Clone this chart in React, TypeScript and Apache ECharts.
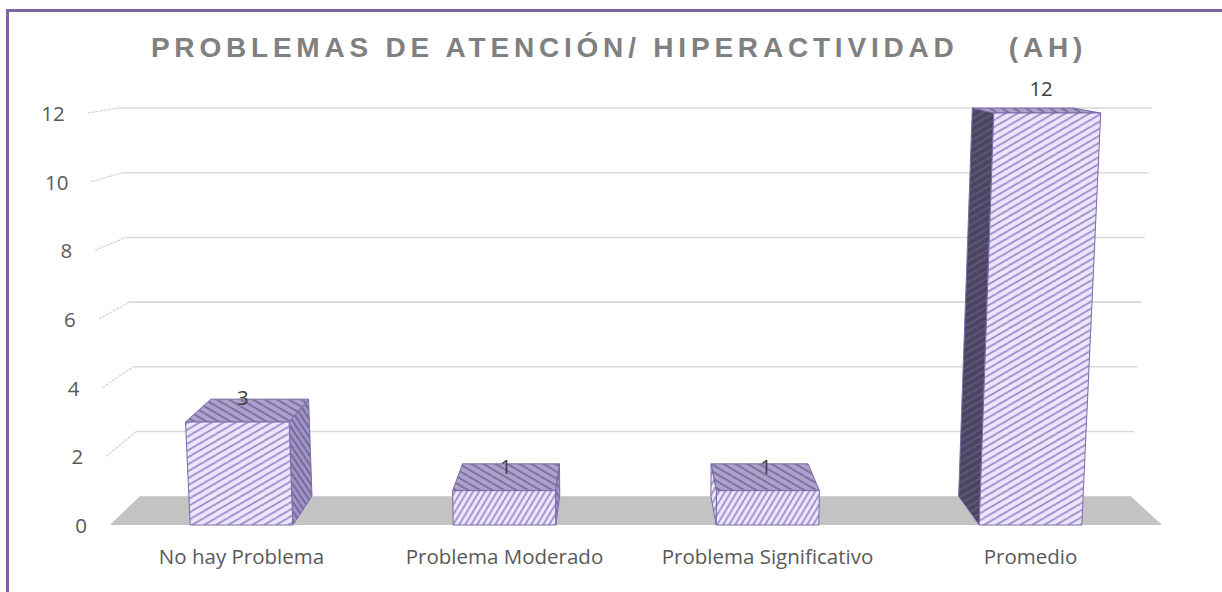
import React, { useEffect, useRef } from 'react';
import * as echarts from 'echarts';

// ---- data ----
const titleText = 'PROBLEMAS DE ATENCIÓN/ HIPERACTIVIDAD    (AH)';
const categories = ['No hay Problema', 'Problema Moderado', 'Problema Significativo', 'Promedio'];
const values = [3, 1, 1, 12];
const yTicks = [0, 2, 4, 6, 8, 10, 12];
const yMax = 12;
const yInterval = 2;

// ---- layout / perspective parameters ----
const W = 1222;
const H = 592;
const GRID = { left: 110, right: 60, top: 113, bottom: 67 };
const DEPTH = 0.058; // scale of the back plane relative to the front plane
const VERT_FAR = 9710; // distance of the vertical vanishing point below the floor
const VP_UP = 85; // depth vanishing point above the plot top
const VP_SHIFT = -12; // depth vanishing point horizontal shift from the plot centre
const BAR_RATIO = 0.39;
const FONT = '"Open Sans", "Liberation Sans", sans-serif';
const FS = 20.5;

function makeProj(cs: { x: number; y: number; width: number; height: number }) {
  const vx = cs.x + cs.width / 2;
  const yb = cs.y + cs.height;
  const far = yb + VERT_FAR;
  const dx = vx + VP_SHIFT;
  const dy = cs.y - VP_UP;
  return (x: number, y: number, z: number): number[] => {
    const xs = vx + ((x - vx) * (far - y)) / (far - yb);
    const r = 1 - DEPTH * z;
    return [dx + (xs - dx) * r, dy + (y - dy) * r];
  };
}

function makeTile(w: number, h: number, bg: string, fg: string, lw: number, dir: string) {
  const c = document.createElement('canvas');
  c.width = w;
  c.height = h;
  const g = c.getContext('2d') as CanvasRenderingContext2D;
  g.fillStyle = bg;
  g.fillRect(0, 0, w, h);
  g.strokeStyle = fg;
  g.lineWidth = lw;
  for (const ox of [-w, 0, w]) {
    for (const oy of [-h, 0, h]) {
      g.beginPath();
      if (dir === '/') {
        g.moveTo(ox, h + oy);
        g.lineTo(w + ox, oy);
      } else {
        g.moveTo(ox, oy);
        g.lineTo(w + ox, h + oy);
      }
      g.stroke();
    }
  }
  return { image: c, repeat: 'repeat', imageWidth: w, imageHeight: h };
}

export default function App() {
  const ref = useRef<HTMLDivElement>(null);

  useEffect(() => {
    if (!ref.current) return;
    const chart = echarts.init(ref.current, undefined, { renderer: 'svg' });

    const pats = {
      front: makeTile(12, 7, '#ECE6FB', '#A699D2', 2, '/'),
      frontSteep: makeTile(6, 10, '#ECE6FB', '#A699D2', 2, '/'),
      top: makeTile(12, 7, '#ADA2CA', '#8072A6', 2, '\\'),
      right: makeTile(6, 9, '#A294C2', '#7668A0', 2, '\\'),
      left: makeTile(12, 7, '#4B4561', '#5D5777', 2, '/'),
    };

    const gridH = H - GRID.top - GRID.bottom;
    const gridW = W - GRID.left - GRID.right;
    const labelShift = (v: number) => ((gridW / 2) * ((v / yMax) * gridH)) / VERT_FAR;
    const rich: Record<string, any> = {};
    yTicks.forEach((v) => {
      rich['t' + v] = {
        padding: [0, labelShift(v), 0, 0],
        fontSize: FS,
        fontFamily: FONT,
        color: '#595959',
      };
    });

    const edge = '#7A6AA8';
    const poly = (points: number[][], fill: any) => ({
      type: 'polygon',
      shape: { points },
      style: { fill, stroke: edge, lineWidth: 1, lineJoin: 'round' },
    });

    const option: any = {
      animation: false,
      title: {
        text: titleText,
        left: 619,
        top: 33,
        textAlign: 'center',
        padding: 0,
        textStyle: {
          fontFamily: '"Liberation Sans", Arial, sans-serif',
          fontWeight: 'bold',
          fontSize: 28,
          lineHeight: 28,
          color: '#808080',
        },
      },
      grid: { ...GRID, outerBoundsMode: 'none' },
      xAxis: {
        type: 'category',
        data: categories,
        axisLine: { show: false },
        axisTick: { show: false },
        splitLine: { show: false },
        axisLabel: { interval: 0, margin: 20, fontSize: FS, fontFamily: FONT, color: '#595959' },
      },
      yAxis: {
        type: 'value',
        min: 0,
        max: yMax,
        interval: yInterval,
        axisLine: { show: false },
        axisTick: { show: false },
        splitLine: { show: false },
        axisLabel: {
          margin: 23,
          fontSize: FS,
          fontFamily: FONT,
          color: '#595959',
          formatter: (v: number) => `{t${v}|${v}}`,
          rich,
        },
      },
      graphic: [
        {
          type: 'polyline',
          silent: true,
          shape: { points: [[7.5, H], [7.5, 10.5], [W, 10.5]] },
          style: { stroke: '#8064A2', lineWidth: 3, fill: null },
        },
      ],
      series: [
        {
          type: 'custom',
          name: 'floor',
          z: 1,
          silent: true,
          data: [[0, 0]],
          renderItem: (params: any, api: any) => {
            const cs = params.coordSys;
            const P = makeProj(cs);
            const yb = api.coord([0, 0])[1];
            const x0 = cs.x;
            const x1 = cs.x + cs.width;
            return {
              type: 'polygon',
              shape: { points: [P(x0, yb, 0), P(x1, yb, 0), P(x1, yb, 1), P(x0, yb, 1)] },
              style: { fill: '#C3C3C3' },
            };
          },
        },
        {
          type: 'custom',
          name: 'gridlines',
          z: 2,
          silent: true,
          data: yTicks.filter((v) => v > 0).map((v) => [0, v]),
          renderItem: (params: any, api: any) => {
            const cs = params.coordSys;
            const P = makeProj(cs);
            const y = api.coord([0, api.value(1)])[1];
            const x0 = cs.x;
            const x1 = cs.x + cs.width;
            const a = P(x0, y, 0);
            const b = P(x0, y, 1);
            const c = P(x1, y, 1);
            return {
              type: 'group',
              children: [
                {
                  type: 'line',
                  shape: { x1: a[0], y1: a[1], x2: b[0], y2: b[1] },
                  style: { stroke: '#D2D2D2', lineWidth: 1.2, lineDash: [3, 1] },
                },
                {
                  type: 'line',
                  shape: { x1: b[0], y1: b[1], x2: c[0], y2: c[1] },
                  style: { stroke: '#D9D9D9', lineWidth: 1.6 },
                },
              ],
            };
          },
        },
        {
          type: 'custom',
          name: 'AH',
          z: 3,
          data: values.map((v, i) => [i, v]),
          renderItem: (params: any, api: any) => {
            const cs = params.coordSys;
            const P = makeProj(cs);
            const i = api.value(0);
            const v = api.value(1);
            const top = api.coord([i, v]);
            const base = api.coord([i, 0]);
            const half = (api.size([1, 0])[0] * BAR_RATIO) / 2;
            const xL = top[0] - half;
            const xR = top[0] + half;
            const yT = top[1];
            const yB = base[1];
            const FLB = P(xL, yB, 0);
            const FRB = P(xR, yB, 0);
            const FLT = P(xL, yT, 0);
            const FRT = P(xR, yT, 0);
            const BLB = P(xL, yB, 1);
            const BRB = P(xR, yB, 1);
            const BLT = P(xL, yT, 1);
            const BRT = P(xR, yT, 1);
            const children: any[] = [];
            if (BRB[0] > FRB[0] + 0.5) children.push(poly([FRB, BRB, BRT, FRT], pats.right));
            if (BLB[0] < FLB[0] - 0.5) {
              const narrow = FLB[0] - BLB[0] < 10;
              children.push(poly([FLB, BLB, BLT, FLT], narrow ? pats.frontSteep : pats.left));
            }
            if (BLT[1] < FLT[1]) children.push(poly([FLT, FRT, BRT, BLT], pats.top));
            children.push(poly([FLB, FRB, FRT, FLT], yB - yT < 50 ? pats.frontSteep : pats.front));
            const lp = P(top[0], yT, 0.25);
            children.push({
              type: 'text',
              style: {
                text: String(v),
                x: lp[0],
                y: yT - 25,
                align: 'center',
                verticalAlign: 'middle',
                fontSize: FS,
                fontFamily: FONT,
                fill: '#404040',
              },
            });
            return { type: 'group', children };
          },
        },
      ],
    };

    chart.setOption(option);

    const applySpacing = () => {
      if (!ref.current) return;
      ref.current.querySelectorAll('text').forEach((t) => {
        if (t.textContent && t.textContent.indexOf('PROBLEMAS') === 0) {
          t.setAttribute('letter-spacing', '4.8');
          t.setAttribute('xml:space', 'preserve');
          (t as any).style.whiteSpace = 'pre';
        }
      });
    };
    applySpacing();
    const raf = requestAnimationFrame(applySpacing);

    return () => {
      cancelAnimationFrame(raf);
      chart.dispose();
    };
  }, []);

  return (
    <div
      ref={ref}
      style={{ position: 'absolute', left: 0, top: 0, width: W, height: H, background: '#ffffff' }}
    />
  );
}
